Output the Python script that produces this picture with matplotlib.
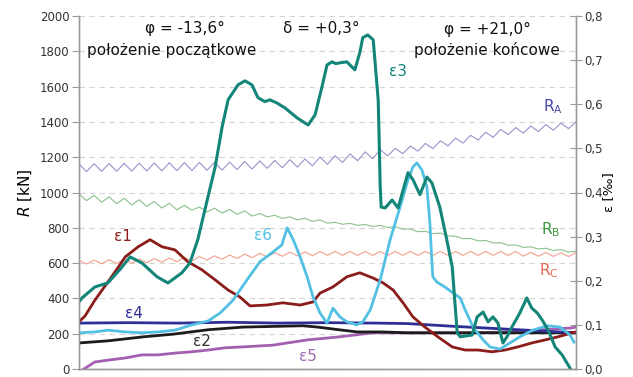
import numpy as np
import matplotlib
matplotlib.use("Agg")
import matplotlib.pyplot as plt

plt.rcParams['font.family'] = ['DejaVu Sans']

# ---- support reactions R [kN], sampled evenly along the travel (0..100 %) ----
r_a = [1162, 1118, 1163, 1120, 1164, 1120, 1165, 1121, 1166, 1122, 1167, 1123,
       1168, 1124, 1169, 1125, 1170, 1126, 1171, 1127, 1172, 1130, 1176, 1133,
       1179, 1137, 1182, 1140, 1186, 1144, 1190, 1151, 1200, 1160, 1209, 1170,
       1219, 1180, 1230, 1192, 1242, 1208, 1250, 1220, 1263, 1234, 1278, 1249,
       1293, 1264, 1308, 1280, 1324, 1297, 1341, 1313, 1357, 1328, 1368, 1336,
       1377, 1345, 1385, 1353, 1393, 1362, 1400]
r_b = [992, 954, 984, 945, 975, 937, 967, 929, 959, 921, 950, 912,
       939, 902, 927, 900, 918, 890, 911, 884, 904, 876, 896, 866,
       881, 862, 871, 853, 862, 845, 854, 836, 845, 826, 831, 820,
       825, 814, 819, 808, 813, 802, 805, 793, 793, 778, 780, 767,
       770, 754, 752, 738, 740, 726, 728, 714, 715, 701, 703, 689,
       692, 680, 684, 672, 676, 663, 667]
r_c = [616, 595, 617, 596, 619, 598, 620, 599, 623, 602, 626, 605,
       629, 608, 632, 612, 637, 617, 641, 622, 646, 626, 651, 631,
       655, 635, 659, 639, 662, 641, 663, 642, 665, 644, 666, 644,
       666, 644, 666, 644, 666, 644, 666, 644, 666, 644, 666, 644,
       666, 644, 666, 644, 666, 644, 666, 644, 666, 644, 666, 639,
       661, 639, 660, 638, 659, 637, 659]
r_pos = np.linspace(0, 100, len(r_a))

# ---- strains ε [‰] ----
e1_x = [0, 1.2, 3.2, 5.8, 7.8, 9.3, 11.9, 14.3, 16.7, 19.3, 21.9, 24.7, 27.4, 30.0,
        32.4, 34.4, 37.8, 41.0, 44.5, 47.1, 48.5, 51.1, 53.9, 56.5, 59.2, 61.2,
        63.2, 65.2, 67.2, 69.6, 72.2, 75.1, 77.7, 80.3, 83.1, 85.7, 88.3, 91.1,
        93.8, 96.4, 99.2, 100]
e1_y = [0.107, 0.120, 0.156, 0.197, 0.229, 0.254, 0.277, 0.293, 0.277, 0.270, 0.243,
        0.225, 0.202, 0.179, 0.163, 0.143, 0.145, 0.150, 0.145, 0.152, 0.172, 0.186,
        0.209, 0.218, 0.206, 0.195, 0.179, 0.150, 0.118, 0.095, 0.073, 0.050, 0.043,
        0.043, 0.039, 0.043, 0.050, 0.059, 0.066, 0.073, 0.082, 0.084]

e2_x = [0, 6, 13, 19, 26, 33, 45, 48, 53, 56, 61, 66, 80, 100]
e2_y = [0.059, 0.064, 0.073, 0.079, 0.089, 0.095, 0.098, 0.095, 0.088, 0.084,
        0.084, 0.082, 0.082, 0.082]

e3_x = [0, 0.6, 3.2, 5.8, 8.2, 10.3, 12.7, 15.7, 17.9, 20.7, 22.3, 23.9, 25.8, 27.4,
        28.8, 30.0, 32.0, 33.4, 34.8, 36.0, 37.4, 38.4, 39.8, 41.4, 43.9, 46.1,
        47.5, 48.9, 49.9, 50.9, 51.7, 52.5, 53.9, 55.5, 56.5, 57.1, 58.1, 59.2,
        60.2, 60.4, 60.6, 60.8, 61.6, 63.0, 64.2, 66.2, 67.2, 68.6, 70.0, 71.0,
        72.6, 74.0, 75.1, 75.6, 76.1, 76.7, 79.1, 80.1, 81.3, 82.3, 83.3, 84.3,
        85.3, 86.1, 87.1, 88.7, 90.1, 91.1, 92.2, 93.2, 94.4, 95.8, 97.2, 98.8]
e3_y = [0.152, 0.161, 0.186, 0.195, 0.225, 0.254, 0.240, 0.209, 0.195, 0.218, 0.240,
        0.293, 0.383, 0.458, 0.549, 0.610, 0.644, 0.653, 0.644, 0.615, 0.606, 0.610,
        0.603, 0.592, 0.569, 0.553, 0.576, 0.640, 0.689, 0.696, 0.692, 0.694, 0.696,
        0.678, 0.717, 0.751, 0.757, 0.746, 0.610, 0.519, 0.413, 0.367, 0.365, 0.383,
        0.365, 0.445, 0.429, 0.395, 0.435, 0.422, 0.367, 0.293, 0.231, 0.156, 0.082,
        0.073, 0.077, 0.118, 0.129, 0.107, 0.118, 0.104, 0.059, 0.073, 0.095, 0.127,
        0.161, 0.138, 0.127, 0.111, 0.088, 0.050, 0.032, 0.002]

e4_x = [0, 10, 20, 30, 40, 50, 60, 66, 75, 85, 95, 100]
e4_y = [0.104, 0.105, 0.104, 0.106, 0.104, 0.105, 0.104, 0.103, 0.097, 0.091,
        0.085, 0.082]

e5_x = [1.0, 3.2, 5.8, 9.3, 12.7, 15.9, 19.3, 22.7, 26.0, 29.4, 32.8, 39, 46, 52.5,
        59, 66, 72, 79, 86, 92, 99, 100]
e5_y = [0.0, 0.016, 0.020, 0.025, 0.032, 0.032, 0.036, 0.039, 0.043, 0.048, 0.050,
        0.054, 0.066, 0.073, 0.082, 0.082, 0.082, 0.082, 0.084, 0.088, 0.093, 0.095]

e6_x = [0, 3.2, 5.8, 9.3, 12.7, 15.9, 19.3, 22.7, 26.0, 28.4, 31.0, 33.8, 36.4, 39.0,
        40.8, 41.9, 43.1, 44.5, 45.9, 47.1, 48.5, 49.9, 51.1, 52.5, 53.9, 55.9,
        57.1, 58.6, 60.6, 62.6, 64.6, 66.2, 67.2, 68.0, 69.0, 70.0, 70.6, 71.0,
        71.2, 72.0, 73.6, 75.3, 76.7, 77.7, 79.3, 81.3, 82.7, 84.7, 86.7, 88.7,
        91.3, 94.2, 96.8, 98.8, 99.6]
e6_y = [0.082, 0.084, 0.088, 0.084, 0.082, 0.084, 0.088, 0.100, 0.109, 0.127, 0.156,
        0.202, 0.243, 0.265, 0.281, 0.320, 0.293, 0.254, 0.209, 0.163, 0.127, 0.104,
        0.138, 0.118, 0.107, 0.100, 0.107, 0.134, 0.202, 0.293, 0.367, 0.429, 0.458,
        0.467, 0.451, 0.413, 0.331, 0.243, 0.209, 0.197, 0.186, 0.172, 0.161, 0.134,
        0.095, 0.066, 0.050, 0.045, 0.059, 0.073, 0.088, 0.098, 0.095, 0.077, 0.061]

r_ticks = list(range(0, 2001, 200))
e_ticks = [0.0, 0.1, 0.2, 0.3, 0.4, 0.5, 0.6, 0.7, 0.8]
e_tick_labels = ["0,0", "0,1", "0,2", "0,3", "0,4", "0,5", "0,6", "0,7", "0,8"]

fig = plt.figure(figsize=(6.33, 3.77), dpi=100)
ax = fig.add_axes([79 / 633, 8 / 377, (576 - 79) / 633, (369 - 16) / 377])
ax2 = ax.twinx()

axis_grey = "#9a9a9a"
ax.set_xlim(0, 100)
ax.set_ylim(0, 2000)
ax2.set_ylim(0, 0.8)

ax.set_yticks(r_ticks)
ax.set_yticklabels([str(t) for t in r_ticks])
ax2.set_yticks(e_ticks)
ax2.set_yticklabels(e_tick_labels)
ax.set_xticks([])

for a in (ax, ax2):
    a.spines["top"].set_visible(False)
    for s in ("left", "right", "bottom"):
        a.spines[s].set_color(axis_grey)
        a.spines[s].set_linewidth(1.0)
ax.tick_params(axis="y", direction="out", length=5, color=axis_grey,
               labelsize=8.5, labelcolor="#333333", pad=2)
ax2.tick_params(axis="y", direction="inout", length=8, color=axis_grey,
                labelsize=8.5, labelcolor="#333333", pad=2)

ax.grid(axis="y", color="#d4d4d4", linestyle=(0, (5, 4)), linewidth=0.8)
ax.set_axisbelow(True)

ax.set_ylabel(r"$R$ [kN]", fontsize=11, labelpad=4)
ax2.set_ylabel("ε [‰]", fontsize=9.5, rotation=90, labelpad=-1)

# reactions (thin)
ax.plot(r_pos, r_a, color="#9a92cc", lw=0.8)
ax.plot(r_pos, r_b, color="#8cc08c", lw=0.8)
ax.plot(r_pos, r_c, color="#f2a08e", lw=0.8)

# strains (thick)
ax2.plot(e5_x, e5_y, color="#a45fb0", lw=2.0)
ax2.plot(e2_x, e2_y, color="#1c1c1c", lw=2.0)
ax2.plot(e4_x, e4_y, color="#2e2f96", lw=2.0)
ax2.plot(e1_x, e1_y, color="#8a1d1a", lw=2.0)
ax2.plot(e6_x, e6_y, color="#52c0e2", lw=2.0)
ax2.plot(e3_x, e3_y, color="#138579", lw=2.2)

txt = dict(fontsize=11, ha="center", va="center", color="#111111")
ax.text(21.3, 1932, "φ = -13,6°", **txt)
ax.text(18.7, 1807, "położenie początkowe", **txt)
ax.text(48.7, 1932, "δ = +0,3°", **txt)
ax.text(82.1, 1921, "φ = +21,0°", **txt)
ax.text(82.1, 1807, "położenie końcowe", **txt)

lab = dict(fontsize=11, ha="center", va="center")
ax.text(64.2, 1683, "ε3", color="#138579", **lab)
ax.text(8.9, 748, "ε1", color="#8a1d1a", **lab)
ax.text(37.0, 754, "ε6", color="#52c0e2", **lab)
ax.text(11.1, 312, "ε4", color="#2e2f96", **lab)
ax.text(24.7, 153, "ε2", color="#333333", **lab)
ax.text(46.1, 68, "ε5", color="#a06ab4", **lab)
ax.text(95.4, 1484, r"R$_\mathrm{A}$", color="#4a48a8", **lab)
ax.text(94.8, 788, r"R$_\mathrm{B}$", color="#3c9a3c", **lab)
ax.text(94.6, 555, r"R$_\mathrm{C}$", color="#e26a58", **lab)

fig.savefig("out.png", dpi=100)
